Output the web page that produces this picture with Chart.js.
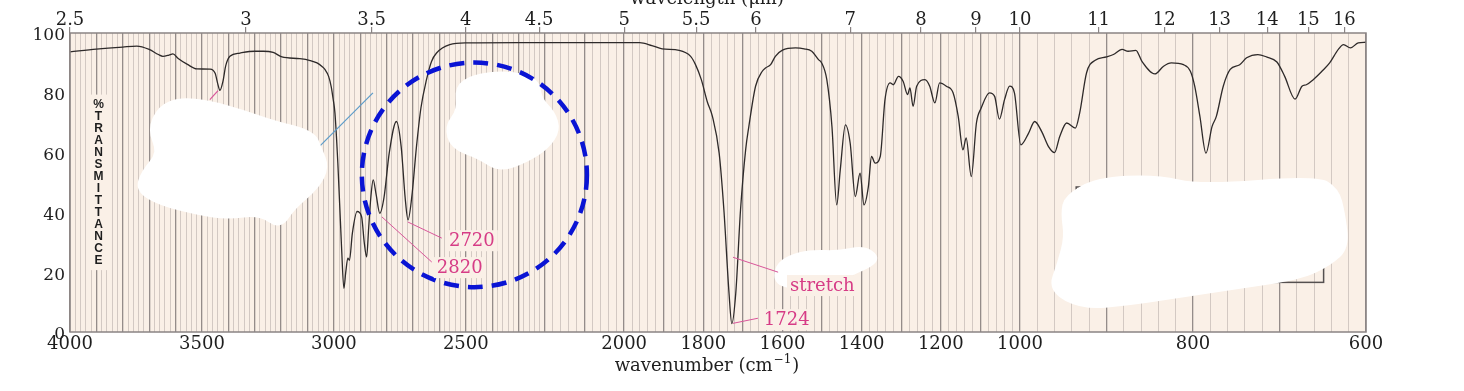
<!DOCTYPE html>
<html lang="de">
<head>
<meta charset="utf-8">
<title>IR-Spektrum</title>
<script src="https://cdn.jsdelivr.net/npm/chart.js@4.4.1/dist/chart.umd.min.js"></script>
<style>
    html, body { margin: 0; padding: 0; background: #ffffff; }
    canvas { display: block; }
</style>
</head>
<body>
<canvas id="spektrum" width="1464" height="391"></canvas>
<script>
const wellenzahlen = [
    4000, 3900, 3800, 3747, 3700, 3665, 3648, 3625, 3610, 3590, 3555, 3519, 3470, 3450, 3440, 3432,
    3420, 3410, 3394, 3356, 3300, 3268, 3230, 3197, 3129, 3090, 3064, 3045, 3034, 3020, 3010, 3003,
    2996, 2985, 2971, 2962, 2955, 2947, 2941, 2930, 2912, 2895, 2885, 2876, 2868, 2860, 2851, 2840,
    2826, 2810, 2790, 2763, 2745, 2730, 2719, 2705, 2687, 2670, 2649, 2630, 2611, 2561, 2497, 2300,
    2100, 1961, 1930, 1904, 1861, 1832, 1820, 1805, 1790, 1777, 1760, 1748, 1735, 1728, 1718, 1706,
    1693, 1685, 1668, 1651, 1643, 1630, 1618, 1600, 1567, 1545, 1526, 1509, 1501, 1488, 1475, 1463,
    1454, 1441, 1429, 1416, 1404, 1394, 1383, 1375, 1366, 1353, 1341, 1328, 1320, 1307, 1295, 1284,
    1278, 1270, 1261, 1240, 1228, 1215, 1203, 1186, 1169, 1156, 1144, 1136, 1123, 1110, 1098, 1077,
    1064, 1052, 1039, 1026, 1014, 999, 990, 983, 975, 967, 960, 954, 946, 936, 931, 923,
    913, 900, 892, 882, 875, 866, 859, 844, 834, 825, 811, 803, 798, 792, 785, 778,
    773, 765, 757, 746, 738, 725, 715, 703, 694, 682, 674, 669, 661, 651, 642, 632,
    626, 618, 609, 600
];
const transmission = [
    93.7, 94.6, 95.3, 95.6, 94.5, 92.8, 92.2, 92.6, 93.0, 91.5, 89.5, 88.0, 87.9, 86.5, 83.0, 80.8,
    84.0, 89.0, 92.2, 93.3, 93.9, 93.9, 93.5, 92.0, 91.4, 90.8, 90.0, 88.8, 87.8, 85.5, 82.0, 78.0,
    73.3, 56.5, 28.5, 14.6, 20.0, 24.7, 24.0, 33.0, 40.3, 38.6, 30.0, 25.1, 35.0, 45.0, 50.9, 46.0,
    39.7, 45.0, 60.0, 70.4, 62.0, 45.0, 37.5, 45.0, 62.0, 75.0, 84.4, 90.5, 93.3, 96.1, 96.7, 96.8,
    96.8, 96.8, 95.8, 94.7, 94.2, 92.2, 89.5, 84.4, 77.0, 72.1, 59.8, 40.8, 12.9, 2.8, 13.0, 40.8,
    61.0, 68.7, 82.2, 87.2, 88.3, 89.4, 92.2, 94.3, 95.0, 94.7, 93.9, 91.1, 90.0, 84.4, 68.7, 42.5,
    54.2, 69.3, 63.2, 45.3, 53.1, 42.5, 48.6, 58.7, 56.5, 58.7, 77.7, 83.3, 82.7, 85.5, 83.8, 79.4,
    81.6, 75.5, 82.2, 84.4, 82.2, 76.6, 83.3, 82.2, 80.0, 72.1, 60.9, 64.9, 52.0, 69.9, 74.9, 80.0,
    78.8, 71.2, 77.7, 82.2, 80.0, 62.6, 66.5, 70.4, 67.1, 62.0, 60.0, 65.4, 69.9, 68.2, 73.2, 86.7,
    90.9, 92.0, 92.8, 94.5, 93.9, 94.2, 90.5, 86.3, 88.9, 90.0, 89.4, 87.2, 82.2, 72.1, 59.8, 68.7,
    72.1, 82.2, 87.8, 89.4, 91.7, 92.8, 92.0, 90.3, 85.5, 77.9, 82.2, 82.7, 84.4, 87.2, 90.0, 94.5,
    96.1, 95.0, 96.7, 96.9
];

// Achsenbeschriftungen
const wellenzahlTicks = [4000, 3500, 3000, 2500, 2000, 1800, 1600, 1400, 1200, 1000, 800, 600];
const wellenlaengenTicks = [2.5, 3, 3.5, 4, 4.5, 5, 5.5, 6, 7, 8, 9, 10, 11, 12, 13, 14, 15, 16];
const transmissionTicks = [0, 20, 40, 60, 80, 100];

// Die Wellenzahlachse wechselt bei 2200 und 1000 cm-1 den Maßstab
const knickWellenzahlen = [4000, 2200, 1000, 600];
const knickAnteile = [0, 0.3665, 0.7330, 1];

const SCHRIFT = '"DejaVu Serif", "Liberation Serif", serif';
const HINTERGRUND = '#faf0e7';
const PINK = '#d63c86';

/**
 * Rechnet eine Wellenzahl in den Anteil der Achsenlänge um (stückweise linear)
 * @param {number} nu - Wellenzahl in cm-1
 * @returns {number} - Anteil zwischen 0 und 1
 */
function wellenzahlZuAnteil(nu) {
    const n = knickWellenzahlen.length;
    for (let i = 0; i < n - 1; i++) {
        const a = knickWellenzahlen[i];
        const b = knickWellenzahlen[i + 1];
        if (nu >= b || i === n - 2) {
            return knickAnteile[i] + (a - nu) / (a - b) * (knickAnteile[i + 1] - knickAnteile[i]);
        }
    }
}

/**
 * Umkehrung von wellenzahlZuAnteil
 * @param {number} anteil - Anteil der Achsenlänge
 * @returns {number} - Wellenzahl in cm-1
 */
function anteilZuWellenzahl(anteil) {
    const n = knickAnteile.length;
    for (let i = 0; i < n - 1; i++) {
        if (anteil <= knickAnteile[i + 1] || i === n - 2) {
            const t = (anteil - knickAnteile[i]) / (knickAnteile[i + 1] - knickAnteile[i]);
            return knickWellenzahlen[i] - t * (knickWellenzahlen[i] - knickWellenzahlen[i + 1]);
        }
    }
}

// Eigene Skala für die geknickte Wellenzahlachse
class WellenzahlSkala extends Chart.LinearScale {
    getPixelForValue(value) {
        if (value === null || value === undefined) {
            return NaN;
        }
        return this.getPixelForDecimal(wellenzahlZuAnteil(value));
    }

    getValueForPixel(pixel) {
        return anteilZuWellenzahl(this.getDecimalForPixel(pixel));
    }
}
WellenzahlSkala.id = 'wellenzahl';
WellenzahlSkala.defaults = Chart.LinearScale.defaults;
Chart.register(WellenzahlSkala);

// Gitterlinien alle 20 cm-1, kräftiger alle 100 cm-1
const gitterWerte = [];
for (let w = 4000; w >= 600; w -= 20) {
    gitterWerte.push(w);
}

// Anmerkungen im Bild (Wellenzahl, Transmission)
const weisseFlecken = [
    [[3697, 67.6], [3659, 75.0], [3583, 77.7], [3470, 76.6], [3337, 73.3], [3231, 70.0], [3080, 66.6],
     [3053, 60.9], [3027, 55.2], [3064, 48.5], [3155, 41.8], [3205, 35.1], [3280, 39.8], [3405, 38.5],
     [3508, 39.8], [3659, 43.1], [3742, 47.5], [3723, 53.2], [3659, 59.9]],
    [[2534, 81.7], [2473, 85.4], [2345, 86.7], [2231, 84.4], [2220, 77.7], [2180, 73.3], [2167, 67.6],
     [2195, 61.9], [2269, 57.6], [2371, 54.2], [2447, 58.6], [2549, 61.9], [2572, 68.6], [2523, 74.3]],
    [[946, 45.2], [911, 50.9], [842, 51.9], [792, 48.5], [657, 51.5], [634, 47.5], [627, 39.8],
     [622, 28.4], [642, 23.0], [676, 18.3], [754, 15.0], [830, 11.6], [876, 9.6], [927, 8.3],
     [965, 14.0], [954, 23.0], [946, 31.7], [950, 39.8]],
    [[1614, 21.7], [1581, 25.1], [1530, 26.7], [1455, 26.4], [1397, 28.1], [1361, 25.1], [1379, 22.4],
     [1429, 19.7], [1455, 16.7], [1556, 15.0], [1614, 16.3]]
];

const markierungen = [
    { text: '2720', von: [2720, 36.8], nach: [2591, 31.4], pos: [2564, 30.7] },
    { text: '2820', von: [2818, 38.5], nach: [2629, 23.4], pos: [2610, 21.7] },
    { text: 'stretch', von: [1725, 25.0], nach: [1611, 20.0], pos: [1581, 15.7] },
    { text: '1724', von: [1725, 2.9], nach: [1662, 4.6], pos: [1647, 4.3] }
];

/**
 * Zeichnet eine weiche, geschlossene Fläche durch die gegebenen Pixelpunkte
 */
function zeichneFleck(ctx, punkte) {
    const n = punkte.length;
    const mitte = (p, q) => [(p[0] + q[0]) / 2, (p[1] + q[1]) / 2];
    const start = mitte(punkte[n - 1], punkte[0]);
    ctx.beginPath();
    ctx.moveTo(start[0], start[1]);
    for (let i = 0; i < n; i++) {
        const m = mitte(punkte[i], punkte[(i + 1) % n]);
        ctx.quadraticCurveTo(punkte[i][0], punkte[i][1], m[0], m[1]);
    }
    ctx.closePath();
    ctx.fill();
    ctx.stroke();
}

const hintergrundPlugin = {
    id: 'hintergrund',
    beforeDraw(chart) {
        const { ctx, chartArea: a } = chart;
        ctx.save();
        ctx.fillStyle = '#ffffff';
        ctx.fillRect(0, 0, chart.width, chart.height);
        ctx.fillStyle = HINTERGRUND;
        ctx.fillRect(a.left, a.top, a.right - a.left, a.bottom - a.top);
        ctx.restore();
    },
    beforeDatasetsDraw(chart) {
        // Kasten mit senkrechter Beschriftung %TRANSMITTANCE
        const { ctx } = chart;
        const x = chart.scales.x;
        const y = chart.scales.y;
        const links = x.getPixelForValue(3934);
        const rechts = x.getPixelForValue(3850);
        const oben = y.getPixelForValue(79.4);
        const unten = y.getPixelForValue(20.7);
        ctx.save();
        ctx.fillStyle = HINTERGRUND;
        ctx.fillRect(links, oben, rechts - links, unten - oben);
        ctx.fillStyle = '#1e1e1e';
        ctx.font = 'bold 12px "Liberation Sans", Arial, sans-serif';
        ctx.textAlign = 'center';
        ctx.textBaseline = 'middle';
        const buchstaben = '%TRANSMITTANCE'.split('');
        const erster = y.getPixelForValue(76.0);
        const letzter = y.getPixelForValue(24.0);
        const schritt = (letzter - erster) / (buchstaben.length - 1);
        buchstaben.forEach((b, i) => {
            ctx.fillText(b, (links + rechts) / 2, erster + i * schritt);
        });
        ctx.restore();
    }
};

const anmerkungenPlugin = {
    id: 'anmerkungen',
    afterDatasetsDraw(chart) {
        const { ctx } = chart;
        const px = nu => chart.scales.x.getPixelForValue(nu);
        const py = t => chart.scales.y.getPixelForValue(t);
        ctx.save();

        // kurze pinke Linie an der Bande bei 3432
        ctx.strokeStyle = '#d9569a';
        ctx.lineWidth = 1.2;
        ctx.beginPath();
        ctx.moveTo(px(3470), py(77.7));
        ctx.lineTo(px(3439), py(80.7));
        ctx.stroke();

        // dünne blaue Linie
        ctx.strokeStyle = '#5b9bc9';
        ctx.lineWidth = 1.2;
        ctx.beginPath();
        ctx.moveTo(px(3061), py(61.5));
        ctx.lineTo(px(2852), py(80.0));
        ctx.stroke();

        // Rahmen unter dem rechten Fleck
        ctx.strokeStyle = '#555050';
        ctx.lineWidth = 1.5;
        ctx.strokeRect(px(935), py(48.5), px(649) - px(935), py(16.6) - py(48.5));

        // weiße Flecken
        ctx.fillStyle = '#ffffff';
        ctx.strokeStyle = '#ffffff';
        ctx.lineWidth = 5;
        ctx.lineJoin = 'round';
        weisseFlecken.forEach(fleck => {
            zeichneFleck(ctx, fleck.map(p => [px(p[0]), py(p[1])]));
        });

        // gestrichelter blauer Kreis
        const kx = (px(2894) + px(2094)) / 2;
        const ky = (py(90.1) + py(15.0)) / 2;
        const rx = (px(2094) - px(2894)) / 2;
        const ry = (py(15.0) - py(90.1)) / 2;
        ctx.strokeStyle = '#0a14d4';
        ctx.lineWidth = 4.5;
        ctx.setLineDash([15, 9]);
        ctx.beginPath();
        ctx.ellipse(kx, ky, rx, ry, 0, 0, Math.PI * 2);
        ctx.stroke();
        ctx.setLineDash([]);

        // Bandenbeschriftungen mit Hinweislinien
        ctx.font = '18px ' + SCHRIFT;
        ctx.textBaseline = 'middle';
        ctx.textAlign = 'left';
        markierungen.forEach(m => {
            ctx.strokeStyle = '#d9569a';
            ctx.lineWidth = 1;
            ctx.beginPath();
            ctx.moveTo(px(m.von[0]), py(m.von[1]));
            ctx.lineTo(px(m.nach[0]), py(m.nach[1]));
            ctx.stroke();
            const tx = px(m.pos[0]);
            const ty = py(m.pos[1]);
            const breite = ctx.measureText(m.text).width;
            ctx.fillStyle = HINTERGRUND;
            ctx.fillRect(tx - 3, ty - 10, breite + 6, 21);
            ctx.fillStyle = PINK;
            ctx.fillText(m.text, tx, ty + 1);
        });
        ctx.restore();
    },
    afterDraw(chart) {
        const { ctx, chartArea: a } = chart;
        ctx.save();

        // Rahmen des Diagramms
        ctx.strokeStyle = '#8a8484';
        ctx.lineWidth = 1.5;
        ctx.strokeRect(a.left, a.top, a.right - a.left, a.bottom - a.top);

        // Achsentitel
        ctx.fillStyle = '#1e1e1e';
        ctx.font = '18px ' + SCHRIFT;
        ctx.textAlign = 'center';
        ctx.textBaseline = 'alphabetic';
        const mitteX = 707;
        ctx.fillText('wavelength (\u03bcm)', mitteX, 4);

        const teil1 = 'wavenumber (cm';
        const teil2 = '\u22121';
        const teil3 = ')';
        const w1 = ctx.measureText(teil1).width;
        const w3 = ctx.measureText(teil3).width;
        ctx.font = '12px ' + SCHRIFT;
        const w2 = ctx.measureText(teil2).width;
        let x = mitteX - (w1 + w2 + w3 + 2) / 2;
        const grundlinie = 371;
        ctx.textAlign = 'left';
        ctx.font = '18px ' + SCHRIFT;
        ctx.fillText(teil1, x, grundlinie);
        x += w1 + 1;
        ctx.font = '12px ' + SCHRIFT;
        ctx.fillText(teil2, x, grundlinie - 8);
        x += w2 + 1;
        ctx.font = '18px ' + SCHRIFT;
        ctx.fillText(teil3, x, grundlinie);
        ctx.restore();
    }
};

const daten = wellenzahlen.map((w, i) => ({ x: w, y: transmission[i] }));
const ctx = document.getElementById('spektrum').getContext('2d');

new Chart(ctx, {
    type: 'line',
    data: {
        datasets: [{
            data: daten,
            borderColor: '#2e2a2a',
            borderWidth: 1.3,
            pointRadius: 0,
            fill: false,
            cubicInterpolationMode: 'monotone'
        }]
    },
    options: {
        responsive: false,
        animation: false,
        devicePixelRatio: 1,
        layout: { padding: { left: 0, right: 98, top: 0, bottom: 0 } },
        plugins: {
            legend: { display: false },
            tooltip: { enabled: false }
        },
        scales: {
            x: {
                type: 'wellenzahl',
                position: 'bottom',
                min: 600,
                max: 4000,
                afterBuildTicks: scale => { scale.ticks = gitterWerte.map(v => ({ value: v })); },
                afterFit: scale => { scale.height = 59; },
                grid: {
                    drawTicks: false,
                    color: c => (c.tick && c.tick.value % 100 === 0) ? '#948c8a' : '#d3c9c3',
                    lineWidth: c => (c.tick && c.tick.value % 100 === 0) ? 1.3 : 1
                },
                border: { display: false },
                ticks: {
                    autoSkip: false,
                    maxRotation: 0,
                    padding: 2,
                    color: '#1e1e1e',
                    font: { family: SCHRIFT, size: 18 },
                    callback: v => wellenzahlTicks.includes(v) ? String(v) : ''
                }
            },
            xOben: {
                type: 'wellenzahl',
                axis: 'x',
                position: 'top',
                min: 600,
                max: 4000,
                afterBuildTicks: scale => { scale.ticks = wellenlaengenTicks.map(l => ({ value: 10000 / l })); },
                afterFit: scale => { scale.height = 33; },
                grid: {
                    drawOnChartArea: false,
                    drawTicks: true,
                    tickLength: 6,
                    color: '#8a8484',
                    lineWidth: 1.2
                },
                border: { display: false },
                ticks: {
                    autoSkip: false,
                    maxRotation: 0,
                    padding: -4,
                    color: '#1e1e1e',
                    font: { family: SCHRIFT, size: 18 },
                    callback: (v, i) => String(wellenlaengenTicks[i])
                }
            },
            y: {
                min: 0,
                max: 100,
                afterBuildTicks: scale => { scale.ticks = transmissionTicks.map(v => ({ value: v })); },
                afterFit: scale => { scale.width = 70; },
                grid: { display: false, drawTicks: false },
                border: { display: false },
                ticks: {
                    padding: 5,
                    labelOffset: 3,
                    color: '#1e1e1e',
                    font: { family: SCHRIFT, size: 17 }
                }
            }
        }
    },
    plugins: [hintergrundPlugin, anmerkungenPlugin]
});
</script>
</body>
</html>
